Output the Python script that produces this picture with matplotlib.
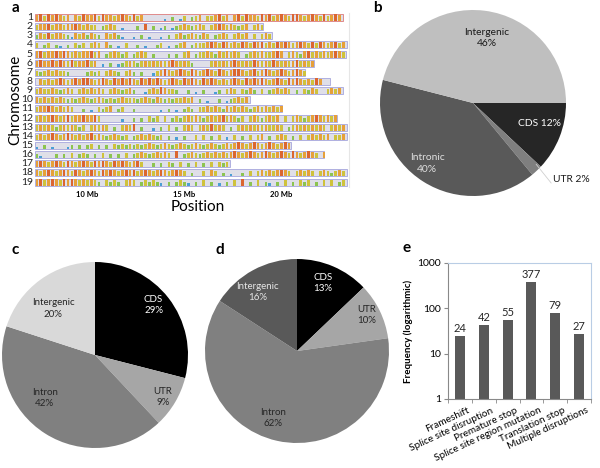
import matplotlib
matplotlib.use('Agg')
import matplotlib.pyplot as plt
import numpy as np

plt.rcParams['font.family'] = ['Lato', 'DejaVu Sans']

# ---- panel a: chromosome density (levels 1..5 per 0.2 Mb bin, '.' = none)
chrom_names = [str(i) for i in range(1, 20)]
chrom_start = 7.3
chrom_end = [23.18, 19.05, 19.52, 23.38, 23.33, 21.68, 21.22, 22.51, 23.18, 18.38,
             20.03, 22.87, 23.38, 23.38, 20.5, 22.2, 17.35, 23.38, 23.38]
bin_mb = 0.2
density = [
    "453545434.435445354434543534.....1.2.13.234.334534.4535443545345435543454353454",
    "3445344344543433.2343.1...2.5.2.12.123432343.3454343234.343",
    "24353443214342432.43421..1.2.1..1.2.342343243.2343.3434.3.343",
    "3.23.21.2.323.343.42.1.3..2.1..23.1.234.2333454354343543545343545434543535434534",
    "45344545434344534.234323.2343.2...2.2.34.233432434343.2343433454.343245343434543",
    "4544545435344534.1.2.12343234343434543432....343434543435434354343453434",
    "323434332....2323.3432.342.2..1345434543543454354345543453454345434543",
    ".4343454345455434543545454354545434543545435454343454354545434543545434354",
    "3433432343.3434343.3432342..134354332..2.1.2..12.343.3242.3.234343.2.3243..3434",
    "43434343232343234323234333234324323233434.2.1..2.1234343",
    "3445434343..2.1.3234.23..2......1.2.1.232.3343432434343234343434",
    "34345434534454453.....1..2.2.323.3.2323434323434534323.34323434.3.343234543434",
    "3434323434323.34343.2.3435.2..1.2.3.2.343.3435343.2.343434343343.2343434343.3434",
    "343454345434345343234323.23434323.2.1.2..3.3.2.3.1.3.2.3.34.2.343.2.3.343434.334",
    "1.2.1...12.2.23.2.2.3232323234323432343234323432343454345434543454354534.3",
    "21...2.2.3.232.2.3.2.2.3.2343234343.5.23432343434345434543454345435434543.4",
    "4543454354345435454354543453..2.2.32.3.2.3.2.3.323",
    "434543454354345435454345453454345434543.2..3.43.2.1..2.3.343434543.34343.3432343",
    "45345435454343432.3232.343.232321.2.2321.2.3.2.1.2.3.5.2.3.21.2.3.2.323.2.3.3.23",
]
level_color = {'1': '#4a9fd4', '2': '#8cc450', '3': '#cfc23c', '4': '#e6a03a', '5': '#db6630'}
level_height = {'1': 0.35, '2': 0.55, '3': 0.75, '4': 0.88, '5': 0.95}
pos_ticks = [10, 15, 20]
pos_labels = ['10 Mb', '15 Mb', '20 Mb']

# ---- panels b, c, d: pies
b_labels = ['CDS', 'UTR', 'Intronic', 'Intergenic']
b_values = [12, 2, 40, 46]
c_labels = ['CDS', 'UTR', 'Intron', 'Intergenic']
c_values = [29, 9, 42, 20]
d_labels = ['CDS', 'UTR', 'Intron', 'Intergenic']
d_values = [13, 10, 62, 16]

# ---- panel e: disruption types
e_cats = ['Frameshift', 'Splice site disruption', 'Premature stop',
          'Splice site region mutation', 'Translation stop', 'Multiple disruptions']
e_values = [24, 42, 55, 377, 79, 27]

W, H = 600, 468


def box(x0, y0, x1, y1):
    # pixel box (top-left origin) -> figure fraction
    return [x0 / W, 1 - y1 / H, (x1 - x0) / W, (y1 - y0) / H]


fig = plt.figure(figsize=(6, 4.68), dpi=100)

# ================= a =================
ax = fig.add_axes(box(35, 12.93, 349, 186.6))
half = 0.38
for i, (name, end, dens) in enumerate(zip(chrom_names, chrom_end, density)):
    y = i + 1
    edge = '#e08a8a' if i == 0 else '#b0b0e0'
    ax.add_patch(plt.Rectangle((chrom_start, y - half), end - chrom_start, 2 * half,
                               facecolor='#dfdfe8', edgecolor=edge, linewidth=0.7, zorder=1))
    xs, hs, cs = [], [], []
    for j, ch in enumerate(dens):
        if ch not in level_color:
            continue
        x = chrom_start + (j + 0.5) * bin_mb
        if x > end:
            continue
        xs.append(x)
        hs.append(-level_height[ch] * 2 * half)
        cs.append(level_color[ch])
    ax.bar(xs, hs, bottom=y + half, width=bin_mb * 0.7, color=cs, linewidth=0, zorder=2)
    ax.text(chrom_start - 0.12, y, name, ha='right', va='center', fontsize=7.5, color='#222222')
ax.set_xlim(chrom_start, chrom_start + 314 / 19.4)
ax.set_ylim(19.5, 0.5)
ax.set_yticks([])
ax.set_xticks(pos_ticks)
ax.set_xticklabels(pos_labels, fontsize=5.5, fontweight='bold')
ax.tick_params(axis='x', length=0, pad=3)
for s in ['top', 'left', 'bottom']:
    ax.spines[s].set_visible(False)
ax.spines['right'].set_color('#e6e6e6')
fig.text(198 / W, 1 - 207 / H, 'Position', ha='center', va='center', fontsize=11)
fig.text(15 / W, 1 - 100 / H, 'Chromosome', ha='center', va='center', fontsize=11, rotation=90)


def draw_pie(rect, values, colors, startangle, texts):
    axp = fig.add_axes(rect)
    axp.pie(values, colors=colors, startangle=startangle, counterclock=False,
            radius=1, wedgeprops=dict(linewidth=0))
    axp.set_xlim(-1, 1)
    axp.set_ylim(-1, 1)
    axp.set_aspect('equal')
    axp.axis('off')
    for (tx, ty, s, col, fs) in texts:
        axp.text(tx, ty, s, ha='center', va='center', color=col, fontsize=fs, linespacing=1.3)
    return axp


# ================= b =================
axb = draw_pie(box(380, 10, 566, 196), b_values, ['#262626', '#7f7f7f', '#595959', '#bfbfbf'], 0,
               [(0.15, 0.70, f'{b_labels[3]}\n{b_values[3]}%', '#1a1a1a', 7.4),
                (0.72, -0.22, f'{b_labels[0]} {b_values[0]}%', 'white', 7.4),
                (-0.49, -0.65, f'{b_labels[2]}\n{b_values[2]}%', '#e0e0e0', 7.4)])
axb.plot([0.68, 0.84], [-0.66, -0.86], color='#d0d0d0', linewidth=0.6, clip_on=False)
axb.text(0.86, -0.82, f'{b_labels[1]} {b_values[1]}%', ha='left', va='center',
         fontsize=7.4, color='#1a1a1a')

# ================= c =================
draw_pie(box(2, 262, 188, 448), c_values, ['#000000', '#a6a6a6', '#808080', '#d9d9d9'], 90,
         [(0.63, 0.54, f'{c_labels[0]}\n{c_values[0]}%', 'white', 7),
          (0.73, -0.45, f'{c_labels[1]}\n{c_values[1]}%', '#262626', 7),
          (-0.54, -0.46, f'{c_labels[2]}\n{c_values[2]}%', '#262626', 7),
          (-0.45, 0.50, f'{c_labels[3]}\n{c_values[3]}%', '#262626', 7)])

# ================= d =================
draw_pie(box(205, 259, 389, 443), d_values, ['#000000', '#a6a6a6', '#808080', '#595959'], 90,
         [(0.28, 0.74, f'{d_labels[0]}\n{d_values[0]}%', 'white', 7),
          (0.76, 0.39, f'{d_labels[1]}\n{d_values[1]}%', '#262626', 7),
          (-0.26, -0.73, f'{d_labels[2]}\n{d_values[2]}%', '#262626', 7),
          (-0.43, 0.64, f'{d_labels[3]}\n{d_values[3]}%', '#e6e6e6', 7)])

# ================= e =================
axe = fig.add_axes(box(448, 263, 591, 399))
xpos = np.arange(len(e_values))
axe.bar(xpos, e_values, width=0.42, color='#595959')
axe.set_yscale('log')
axe.set_ylim(1, 1000)
axe.set_xlim(-0.5, len(e_values) - 0.5)
for x, v in zip(xpos, e_values):
    axe.text(x, v * 1.12, str(v), ha='center', va='bottom', fontsize=8, color='#262626')
axe.set_yticks([1, 10, 100, 1000])
axe.set_yticklabels(['1', '10', '100', '1000'], fontsize=7.5)
axe.yaxis.set_minor_locator(matplotlib.ticker.NullLocator())
axe.set_xticks(xpos + 0.3)
axe.set_xticklabels(e_cats, rotation=25, ha='right', rotation_mode='anchor', fontsize=7.2)
axe.set_xticks(np.arange(-0.5, len(e_values)), minor=True)
axe.tick_params(axis='x', which='major', length=0, pad=5)
axe.tick_params(axis='x', which='minor', length=3, color='#898989')
axe.tick_params(axis='y', length=3, color='#898989', pad=2)
axe.set_ylabel('Frequency (logarithmic)', fontsize=7, fontweight='bold', labelpad=3)
for s in ['top', 'right']:
    axe.spines[s].set_color('#b9cde5')
for s in ['left', 'bottom']:
    axe.spines[s].set_color('#898989')
for sp in axe.spines.values():
    sp.set_linewidth(0.8)

# panel letters
for letter, (px, py) in zip('abcde', [(15, 8), (377, 8), (15, 250), (220, 250), (407, 248)]):
    fig.text(px / W, 1 - py / H, letter, ha='center', va='center', fontsize=11, fontweight='bold')

plt.savefig('out.png', dpi=100)
